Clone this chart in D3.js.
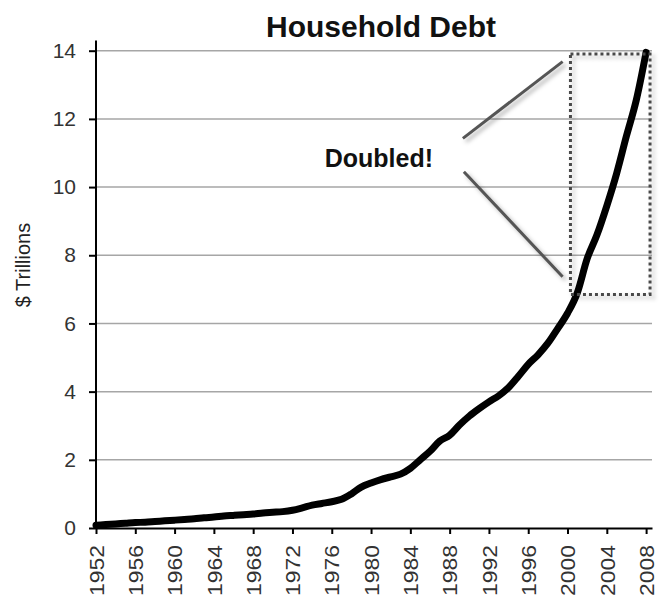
<!DOCTYPE html>
<html>
<head>
<meta charset="utf-8">
<script src="https://cdn.jsdelivr.net/npm/d3@7/dist/d3.min.js"></script>
<style>
  html, body { margin: 0; padding: 0; background: #fff; }
  svg { display: block; }
</style>
</head>
<body>
<script>
// ---- Data ----
const years = [1952,1953,1954,1955,1956,1957,1958,1959,1960,1961,1962,1963,1964,1965,1966,1967,1968,1969,1970,
  1971,1972,1973,1974,1975,1976,1977,1978,1979,1980,1981,1982,1983,1984,1985,1986,1987,1988,1989,1990,
  1991,1992,1993,1994,1995,1996,1997,1998,1999,2000,2001,2002,2003,2004,2005,2006,2007,2008];
const debt = [0.08,0.10,0.12,0.14,0.16,0.17,0.19,0.21,0.23,0.25,0.27,0.30,0.32,0.35,0.37,0.39,0.41,0.44,0.46,
  0.48,0.52,0.59,0.67,0.72,0.77,0.84,1.00,1.20,1.32,1.42,1.50,1.58,1.75,2.00,2.25,2.55,2.72,3.02,3.28,
  3.50,3.70,3.88,4.12,4.45,4.80,5.08,5.42,5.85,6.30,6.90,7.90,8.60,9.45,10.40,11.50,12.55,13.95];
const yTicks = [0,2,4,6,8,10,12,14];
const xTickLabels = ["1952","1956","1960","1964","1968","1972","1976","1980","1984","1988","1992","1996","2000","2004","2008"];
const title = "Household Debt";
const yTitle = "$ Trillions";
const noteText = "Doubled!";
// annotation anchors in data units
const boxYears = [2000.3, 2008.4];
const boxValues = [6.85, 13.9];
const pointerUpper = [[1989.35, 11.43], [1999.5, 13.68]];
const pointerLower = [[1989.45, 10.45], [1999.5, 7.37]];
const notePos = [1980.8, 10.6];

// ---- Layout ----
const W = 660, H = 602;
const FONT = "Liberation Sans, Arial, sans-serif";
const svg = d3.select("body").append("svg").attr("width", W).attr("height", H);

const x = d3.scaleLinear().domain([1952, 2008.6]).range([96, 652]);
const y = d3.scaleLinear().domain([0, 14]).range([528, 50.7]);

const defs = svg.append("defs");
const f = defs.append("filter").attr("id", "shadow").attr("x", "-20%").attr("y", "-20%").attr("width", "150%").attr("height", "150%");
f.append("feDropShadow").attr("dx", 3).attr("dy", 3).attr("stdDeviation", 2)
  .attr("flood-color", "#000").attr("flood-opacity", 0.3);

// gridlines
svg.append("g").selectAll("line").data(yTicks.filter(d => d > 0)).join("line")
  .attr("x1", x(1952)).attr("x2", x(2008.6))
  .attr("y1", d => y(d)).attr("y2", d => y(d))
  .attr("stroke", "#a6a6a6").attr("stroke-width", 1.5);

// Y axis
const yAxis = svg.append("g").attr("transform", `translate(${x(1952)},0)`)
  .call(d3.axisLeft(y).tickValues(yTicks).tickSize(7).tickSizeOuter(0).tickPadding(13));
yAxis.select(".domain").remove();
yAxis.selectAll(".tick line").attr("stroke", "#000").attr("stroke-width", 2);
yAxis.selectAll(".tick text").attr("font-family", FONT)
  .attr("font-size", 21).attr("fill", "#333");
yAxis.append("line").attr("x1", 0).attr("x2", 0).attr("y1", y(0)).attr("y2", y(14.3))
  .attr("stroke", "#000").attr("stroke-width", 2);

// X axis
const xAxis = svg.append("g").attr("transform", `translate(0,${y(0)})`)
  .call(d3.axisBottom(x).tickValues(xTickLabels.map(Number)).tickFormat(d => String(d))
    .tickSize(6).tickSizeOuter(0).tickPadding(10));
xAxis.select(".domain").attr("stroke", "#000").attr("stroke-width", 2);
xAxis.selectAll(".tick line").attr("stroke", "#000").attr("stroke-width", 2);
xAxis.selectAll(".tick text")
  .attr("font-family", FONT).attr("font-size", 20).attr("fill", "#333")
  .attr("transform", "rotate(-90)")
  .attr("text-anchor", "end")
  .attr("x", -17).attr("y", 0).attr("dy", "0.36em")
  .attr("textLength", 51).attr("lengthAdjust", "spacingAndGlyphs");

// Line
const line = d3.line().x((d, i) => x(years[i])).y(d => y(d)).curve(d3.curveMonotoneX);
svg.append("path").datum(debt).attr("d", line)
  .attr("fill", "none").attr("stroke", "#000").attr("stroke-width", 7)
  .attr("stroke-linejoin", "round").attr("stroke-linecap", "round");

// Annotation box
svg.append("rect")
  .attr("x", x(boxYears[0])).attr("y", y(boxValues[1]))
  .attr("width", x(boxYears[1]) - x(boxYears[0])).attr("height", y(boxValues[0]) - y(boxValues[1]))
  .attr("fill", "none").attr("stroke", "#4a4a4a").attr("stroke-width", 3)
  .attr("stroke-dasharray", "3,3").attr("filter", "url(#shadow)");

// Pointers
[pointerUpper, pointerLower].forEach(p => {
  svg.append("line")
    .attr("x1", x(p[0][0])).attr("y1", y(p[0][1]))
    .attr("x2", x(p[1][0])).attr("y2", y(p[1][1]))
    .attr("stroke", "#555").attr("stroke-width", 3).attr("filter", "url(#shadow)");
});

// Note text
svg.append("text").attr("x", x(notePos[0])).attr("y", y(notePos[1]))
  .attr("text-anchor", "middle").attr("font-family", FONT)
  .attr("font-weight", "bold").attr("font-size", 25).attr("fill", "#111").text(noteText);

// Title
svg.append("text").attr("x", 381).attr("y", 36.5)
  .attr("text-anchor", "middle").attr("font-family", FONT)
  .attr("font-weight", "bold").attr("font-size", 30).attr("fill", "#111").text(title);

// Y title
svg.append("text").attr("transform", `translate(30,${265}) rotate(-90)`)
  .attr("text-anchor", "middle").attr("font-family", FONT)
  .attr("font-size", 20).attr("fill", "#222").text(yTitle);
</script>
</body>
</html>
